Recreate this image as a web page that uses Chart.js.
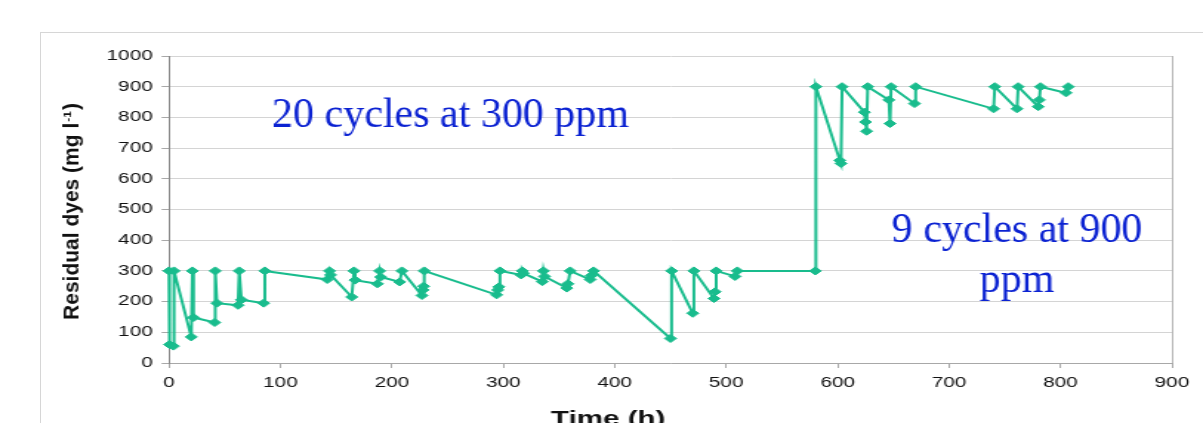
<!DOCTYPE html>
<html>
<head>
<meta charset="utf-8">
<script src="https://cdn.jsdelivr.net/npm/chart.js@4"></script>
<style>
  html, body { margin: 0; padding: 0; background: #fff; overflow: hidden; }
  #frame { position: absolute; left: 40px; top: 32px; width: 1300px; height: 500px; border: 1px solid #d6d6d6; }
  #wrap { position: absolute; left: 0; top: 0; width: 813px; height: 423px; transform-origin: 0 0; }
  #chart { display: block; width: 813px; height: 423px; }
</style>
</head>
<body>
<div id="frame"></div>
<div id="wrap"><canvas id="chart" width="813" height="423"></canvas></div>
<script>
// sampling times (h) and residual dye (mg/l), 20 cycles at 300 ppm then 9 at 900 ppm
var hours = [
  0, 0.5, 4, 4.5, 20, 21, 22, 41, 41.5, 43, 62, 63, 65, 85, 86,
  142, 144, 145, 164, 166, 167, 187, 189, 190, 207, 209, 227, 228, 228.5, 229,
  294, 295, 296, 297, 316, 317, 318, 335, 336, 337, 357, 358, 360, 378, 379, 381,
  450, 451, 470, 471, 489, 490, 491, 508, 510, 580,
  580.5, 602, 603, 604, 624, 625, 626, 627, 646, 647, 648, 669, 670,
  740, 741, 761, 762, 780, 781, 782, 805, 807
];
var dye = [
  300, 60, 55, 300, 85, 300, 148, 132, 300, 195, 188, 300, 206, 195, 300,
  272, 300, 287, 215, 300, 270, 258, 300, 280, 264, 300, 220, 238, 250, 300,
  222, 238, 248, 300, 287, 300, 292, 265, 300, 282, 244, 258, 300, 272, 285, 300,
  80, 300, 162, 300, 210, 232, 300, 282, 300, 300,
  900, 660, 650, 900, 817, 785, 755, 900, 857, 780, 900, 845, 900,
  828, 900, 828, 900, 835, 857, 900, 880, 900
];
var noteLines = ['20 cycles at 300 ppm', '9 cycles at 900', 'ppm'];
var yTitle = ['Residual dyes (mg l', '-1', ')'];
var xTitle = 'Time (h)';

// the source picture is stretched sideways, so the chart is drawn narrow and widened
var STRETCH = 1203 / 813;
document.getElementById('wrap').style.transform = 'scaleX(' + STRETCH + ')';

var GREEN = '#19bc8d';
var BLUE = '#0b22d2';

var points = hours.map(function (h, i) { return { x: h, y: dye[i] }; });

var textPlugin = {
  id: 'texts',
  afterDraw: function (chart) {
    var ctx = chart.ctx, sx = chart.scales.x, sy = chart.scales.y, a = chart.chartArea;

    // x title, stretched like the axis labels
    ctx.save();
    ctx.font = 'bold 20px "Liberation Sans", Arial, sans-serif';
    ctx.fillStyle = '#111';
    ctx.textAlign = 'center';
    ctx.textBaseline = 'top';
    ctx.fillText(xTitle, 411, 409);
    ctx.restore();

    // the rest is not stretched
    ctx.save();
    ctx.scale(1 / STRETCH, 1);

    ctx.save();
    ctx.translate(73, (a.top + a.bottom) / 2 + 2);
    ctx.rotate(-Math.PI / 2);
    ctx.fillStyle = '#111';
    ctx.textBaseline = 'middle';
    ctx.textAlign = 'left';
    var big = 'bold 21px "Liberation Sans", Arial, sans-serif';
    var small = 'bold 12px "Liberation Sans", Arial, sans-serif';
    ctx.font = big;
    var w1 = ctx.measureText(yTitle[0]).width + 1;
    var w3 = ctx.measureText(yTitle[2]).width;
    ctx.font = small;
    var w2 = ctx.measureText(yTitle[1]).width + 1;
    var x0 = -(w1 + w2 + w3) / 2;
    ctx.font = big;
    ctx.fillText(yTitle[0], x0, 0);
    ctx.font = small;
    ctx.fillText(yTitle[1], x0 + w1, -6);
    ctx.font = big;
    ctx.fillText(yTitle[2], x0 + w1 + w2, 0);
    ctx.restore();

    ctx.font = '42px "Liberation Serif", "Times New Roman", serif';
    ctx.fillStyle = BLUE;
    ctx.textBaseline = 'alphabetic';
    ctx.textAlign = 'left';
    ctx.fillText(noteLines[0], sx.getPixelForValue(92.5) * STRETCH, sy.getPixelForValue(769));
    ctx.textAlign = 'center';
    ctx.fillText(noteLines[1], sx.getPixelForValue(761) * STRETCH, sy.getPixelForValue(394));
    ctx.fillText(noteLines[2], sx.getPixelForValue(761) * STRETCH, sy.getPixelForValue(231));
    ctx.restore();
  }
};

Chart.defaults.font.family = '"Liberation Sans", Arial, sans-serif';

new Chart(document.getElementById('chart'), {
  type: 'line',
  data: {
    datasets: [{
      data: points,
      borderColor: GREEN,
      backgroundColor: GREEN,
      borderWidth: 2,
      pointStyle: 'rectRot',
      pointRadius: 4,
      pointBorderWidth: 1,
      pointBackgroundColor: GREEN,
      pointBorderColor: GREEN,
      tension: 0,
      clip: false
    }]
  },
  options: {
    responsive: false,
    animation: false,
    devicePixelRatio: 1,
    layout: { padding: { top: 56, right: 21, left: 0, bottom: 0 } },
    plugins: { legend: { display: false }, tooltip: { enabled: false } },
    scales: {
      x: {
        type: 'linear',
        min: 0,
        max: 900,
        afterFit: function (s) { s.height = 60; },
        ticks: { stepSize: 100, color: '#111', font: { size: 14 }, padding: 7, maxRotation: 0 },
        grid: {
          color: function (c) { return c.tick && c.tick.value === 900 ? '#b5b5b5' : 'rgba(0,0,0,0)'; },
          tickColor: '#a8a8a8',
          tickLength: 5
        },
        border: { color: '#a8a8a8', width: 1 }
      },
      y: {
        min: 0,
        max: 1000,
        afterFit: function (s) { s.width = 114.2; },
        ticks: {
          stepSize: 100, color: '#111', font: { size: 14 }, padding: 6,
          callback: function (v) { return String(v); }
        },
        grid: { color: '#d4d4d4', tickColor: '#a8a8a8', tickLength: 5 },
        border: { color: '#8a8a8a', width: 1 }
      }
    }
  },
  plugins: [textPlugin]
});
</script>
</body>
</html>
